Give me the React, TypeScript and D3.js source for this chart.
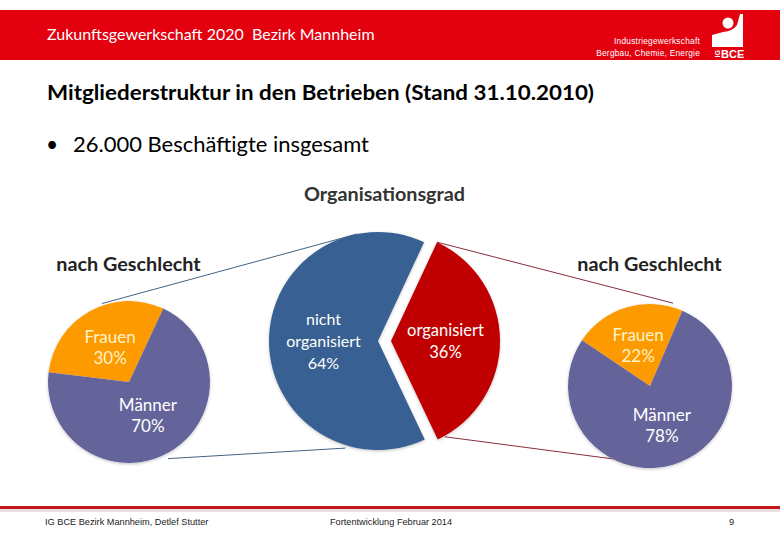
import React, { useEffect, useRef } from 'react';
import * as d3 from 'd3';

// Organisationsgrad (Stand 31.10.2010)
const orgLabels = ["organisiert", "nicht organisiert"];
const orgValues = [36, 64];
const orgTextLines = [["organisiert", "36%"], ["nicht", "organisiert", "64%"]];

// nach Geschlecht
const genderLabels = ["Frauen", "Männer"];
const nonMemberGender = [30, 70]; // links: nicht organisiert
const memberGender = [22, 78];    // rechts: organisiert

const deg = (d: number) => (d * Math.PI) / 180;
const FONT = "Lato, 'Open Sans', sans-serif";

const App: React.FC = () => {
  const svgRef = useRef<SVGSVGElement>(null);

  useEffect(() => {
    if (!svgRef.current) return;
    const svg = d3.select(svgRef.current);
    svg.selectAll("*").remove();

    const defs = svg.append("defs");
    const shadow = defs.append("filter").attr("id", "pie-shadow")
      .attr("x", "-10%").attr("y", "-10%").attr("width", "120%").attr("height", "120%");
    shadow.append("feDropShadow").attr("dx", 0).attr("dy", 1)
      .attr("stdDeviation", 1.5).attr("flood-color", "#000").attr("flood-opacity", 0.25);

    // header band
    svg.append("rect").attr("x", 0).attr("y", 10).attr("width", 780).attr("height", 50).attr("fill", "#e3000f");
    svg.append("text").attr("x", 47).attr("y", 40).style("white-space", "pre")
      .style("font-family", FONT).style("font-size", "16px").style("fill", "#fff")
      .text("Zukunftsgewerkschaft 2020  Bezirk Mannheim");

    // logo
    const small = "'Liberation Sans', sans-serif";
    svg.append("text").attr("x", 700).attr("y", 44).attr("text-anchor", "end")
      .style("font-family", small).style("font-size", "8.3px").style("letter-spacing", "0.25px").style("fill", "#fff")
      .text("Industriegewerkschaft");
    svg.append("text").attr("x", 700).attr("y", 56).attr("text-anchor", "end")
      .style("font-family", small).style("font-size", "8.3px").style("letter-spacing", "0.25px").style("fill", "#fff")
      .text("Bergbau, Chemie, Energie");
    svg.append("circle").attr("cx", 728).attr("cy", 23).attr("r", 5.5).attr("fill", "#fff");
    svg.append("path").attr("fill", "#fff")
      .attr("d", "M712,35 L723,32 Q733,31 737,25 L740,14 L743,14 L743,47 L712,47 Z");
    svg.append("text").attr("x", 721).attr("y", 57.5)
      .style("font-family", small).style("font-weight", "bold")
      .style("font-size", "11px").style("fill", "#fff").text("BCE");
    svg.append("text").attr("transform", "translate(719.5,57.5) rotate(-90)")
      .style("font-family", small).style("font-weight", "bold")
      .style("font-size", "7px").style("fill", "#fff").text("IG");

    // headings
    svg.append("text").attr("x", 47).attr("y", 100)
      .attr("textLength", 547).attr("lengthAdjust", "spacingAndGlyphs")
      .style("font-family", FONT).style("font-weight", "bold").style("font-size", "21.5px").style("fill", "#000")
      .text("Mitgliederstruktur in den Betrieben (Stand 31.10.2010)");
    svg.append("text").attr("x", 46).attr("y", 152)
      .style("font-family", FONT).style("font-size", "21px").style("fill", "#000").text("•");
    svg.append("text").attr("x", 73).attr("y", 152)
      .attr("textLength", 296).attr("lengthAdjust", "spacingAndGlyphs")
      .style("font-family", FONT).style("font-size", "21.5px").style("fill", "#000")
      .text("26.000 Beschäftigte insgesamt");
    svg.append("text").attr("x", 384.5).attr("y", 201).attr("text-anchor", "middle")
      .style("font-family", FONT).style("font-weight", "bold").style("font-size", "19.8px").style("fill", "#333")
      .text("Organisationsgrad");
    [128.5, 649.5].forEach(x => {
      svg.append("text").attr("x", x).attr("y", 271).attr("text-anchor", "middle")
        .style("font-family", FONT).style("font-weight", "bold").style("font-size", "19.8px").style("fill", "#222")
        .text("nach Geschlecht");
    });

    // pie geometry
    const main = { cx: 378, cy: 341, r: 109, explode: 13 };
    const left = { cx: 129, cy: 382, r: 81 };
    const right = { cx: 650, cy: 386, r: 82 };

    const orgPie = d3.pie<number>().sort(null).startAngle(deg(25)).endAngle(deg(25) + 2 * Math.PI);
    const orgArcs = orgPie(orgValues);
    const redMid = (orgArcs[0].startAngle + orgArcs[0].endAngle) / 2;
    const redC = {
      x: main.cx + main.explode * Math.sin(redMid),
      y: main.cy - main.explode * Math.cos(redMid),
    };

    const polar = (cx: number, cy: number, r: number, a: number): [number, number] =>
      [cx + r * Math.sin(a), cy - r * Math.cos(a)];

    // connector lines (under the pies)
    const blueLine = "#2f5275";
    const redLine = "#7d1526";
    const conn = (p: [number, number], q: [number, number], c: string) =>
      svg.append("line").attr("x1", p[0]).attr("y1", p[1]).attr("x2", q[0]).attr("y2", q[1])
        .attr("stroke", c).attr("stroke-width", 0.9);
    conn(polar(left.cx, left.cy, left.r + 2, deg(-19)), polar(main.cx, main.cy, main.r, deg(-11)), blueLine);
    conn(polar(left.cx, left.cy, left.r + 5, deg(153)), polar(main.cx, main.cy, main.r + 3, deg(197)), blueLine);
    conn(polar(redC.x, redC.y, main.r, orgArcs[0].startAngle), polar(right.cx, right.cy, right.r + 4, deg(15.5)), redLine);
    conn(polar(redC.x, redC.y, main.r + 1, orgArcs[0].endAngle - deg(4)), polar(right.cx, right.cy, right.r - 3, deg(175)), redLine);

    // main pie
    const orgColors = ["#c00000", "#386192"];
    const orgFont = [16.5, 16];
    const mainArc = d3.arc<d3.PieArcDatum<number>>().innerRadius(0).outerRadius(main.r);
    const mg = svg.append("g");
    orgArcs.forEach((a, i) => {
      const c = i === 0 ? redC : { x: main.cx, y: main.cy };
      const g = mg.append("g").attr("transform", `translate(${c.x},${c.y})`);
      g.append("path").attr("d", mainArc(a) || "").attr("fill", orgColors[i])
        .attr("filter", "url(#pie-shadow)").attr("aria-label", orgLabels[i]);
      const [lx, ly] = mainArc.centroid(a);
      const lines = orgTextLines[i];
      lines.forEach((t, k) => {
        g.append("text").attr("x", lx).attr("y", ly + (k - (lines.length - 1) / 2) * 22 + 6)
          .attr("text-anchor", "middle")
          .style("font-family", FONT).style("font-size", `${orgFont[i]}px`).style("fill", "#fff").text(t);
      });
    });

    // gender pies
    const genderColors = ["#fd9a00", "#65649a"];
    const genderText = ["#fff3c8", "#ffffff"];
    const drawGender = (p: { cx: number; cy: number; r: number }, values: number[], start: number, lr: number) => {
      const arcs = d3.pie<number>().sort(null).startAngle(deg(start)).endAngle(deg(start) + 2 * Math.PI)(values);
      const arc = d3.arc<d3.PieArcDatum<number>>().innerRadius(0).outerRadius(p.r);
      const lab = d3.arc<d3.PieArcDatum<number>>().innerRadius(lr).outerRadius(lr);
      const g = svg.append("g").attr("transform", `translate(${p.cx},${p.cy})`);
      g.append("circle").attr("r", p.r).attr("fill", "#fff").attr("filter", "url(#pie-shadow)");
      arcs.forEach((a, i) => {
        g.append("path").attr("d", arc(a) || "").attr("fill", genderColors[i]);
      });
      arcs.forEach((a, i) => {
        const [lx, ly] = lab.centroid(a);
        [genderLabels[i], `${values[i]}%`].forEach((t, k) => {
          g.append("text").attr("x", lx).attr("y", ly + (k - 0.5) * 21 + 5.5)
            .attr("text-anchor", "middle")
            .style("font-family", FONT).style("font-size", "17px").style("fill", genderText[i]).text(t);
        });
      });
    };
    drawGender(left, nonMemberGender, -83, 39);
    drawGender(right, memberGender, -56, 42);

    // footer
    svg.append("rect").attr("x", 0).attr("y", 509).attr("width", 780).attr("height", 3).attr("fill", "#e8e0e0");
    svg.append("rect").attr("x", 0).attr("y", 506).attr("width", 780).attr("height", 3).attr("fill", "#c3161c");
    const foot = (x: number, t: string, anchor = "start") =>
      svg.append("text").attr("x", x).attr("y", 525).attr("text-anchor", anchor)
        .style("font-family", "'Liberation Sans Narrow', 'Liberation Sans', sans-serif")
        .style("font-size", "9.2px").style("fill", "#222").text(t);
    foot(45, "IG BCE Bezirk Mannheim, Detlef Stutter");
    foot(330, "Fortentwicklung Februar 2014");
    foot(734, "9", "end");
  }, []);

  return (
    <div style={{ position: "absolute", left: 0, top: 0 }}>
      <svg ref={svgRef} width={780} height={540} style={{ display: "block", background: "#fff" }} />
    </div>
  );
};

export default App;
